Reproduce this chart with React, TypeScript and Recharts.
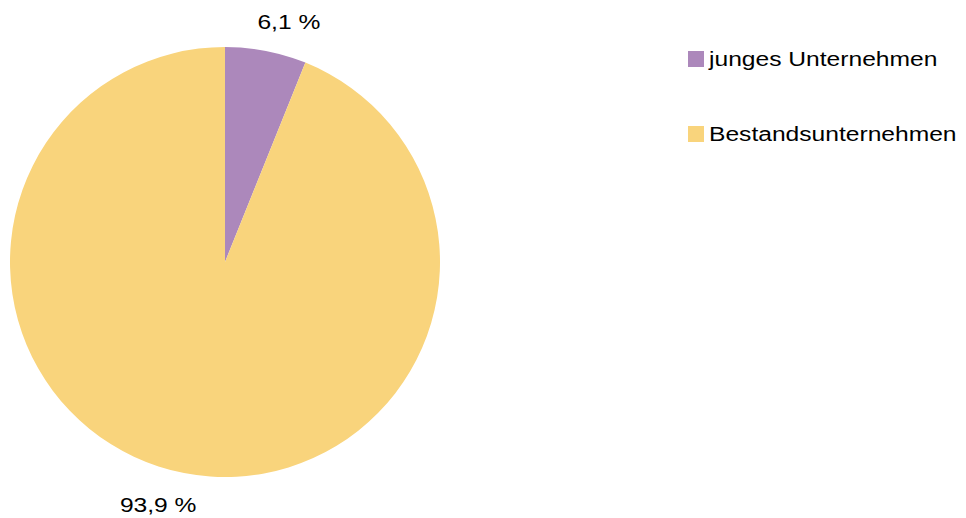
import { PieChart, Pie, Cell, Legend } from 'recharts';

const categories = ['junges Unternehmen', 'Bestandsunternehmen'];
const shares = [6.1, 93.9];
const colors = ['#ac88bb', '#f9d47c'];

const data = categories.map((name, i) => ({ name, value: shares[i] }));

const RAD = Math.PI / 180;
const FONT = '"Liberation Sans", Arial, sans-serif';
// the reference text is drawn a little wider than the plain font
const STRETCH = 1.23;

const renderLabel = (props: any) => {
  const { cx, cy, midAngle, outerRadius, value } = props;
  const r = outerRadius + 31;
  const cos = Math.cos(-midAngle * RAD);
  const sin = Math.sin(-midAngle * RAD);
  const x = cx + r * cos + (cos >= 0 ? 17 : -20);
  const y = cy + r * sin + 2;
  return (
    <text
      transform={`translate(${x},${y}) scale(${STRETCH},1)`}
      x={0}
      y={0}
      textAnchor="middle"
      dominantBaseline="central"
      fill="#000"
      fontSize={20}
      fontFamily={FONT}
    >
      {`${value.toFixed(1).replace('.', ',')} %`}
    </text>
  );
};

const renderLegend = () => (
  <div style={{ fontFamily: FONT, fontSize: 20, color: '#000' }}>
    {categories.map((name, i) => (
      <div key={name} style={{ display: 'flex', alignItems: 'center', height: 24, marginBottom: i === 0 ? 51 : 0 }}>
        <span style={{ display: 'inline-block', flex: 'none', width: 16, height: 16, background: colors[i], marginRight: 5 }} />
        <span style={{ display: 'inline-block', whiteSpace: 'nowrap', transform: `scaleX(${STRETCH})`, transformOrigin: 'left center' }}>
          {name}
        </span>
      </div>
    ))}
  </div>
);

export default function App() {
  return (
    <div style={{ position: 'absolute', left: 0, top: 0, background: '#fff' }}>
      <PieChart width={966} height={518}>
        <Pie
          data={data}
          dataKey="value"
          nameKey="name"
          cx={220}
          cy={257}
          outerRadius={215}
          startAngle={90}
          endAngle={-270}
          stroke="none"
          label={renderLabel}
          labelLine={false}
          isAnimationActive={false}
        >
          {data.map((d, i) => (
            <Cell key={d.name} fill={colors[i]} />
          ))}
        </Pie>
        <Legend
          content={renderLegend}
          wrapperStyle={{ position: 'absolute', left: 688, top: 47, width: 280 }}
        />
      </PieChart>
    </div>
  );
}
